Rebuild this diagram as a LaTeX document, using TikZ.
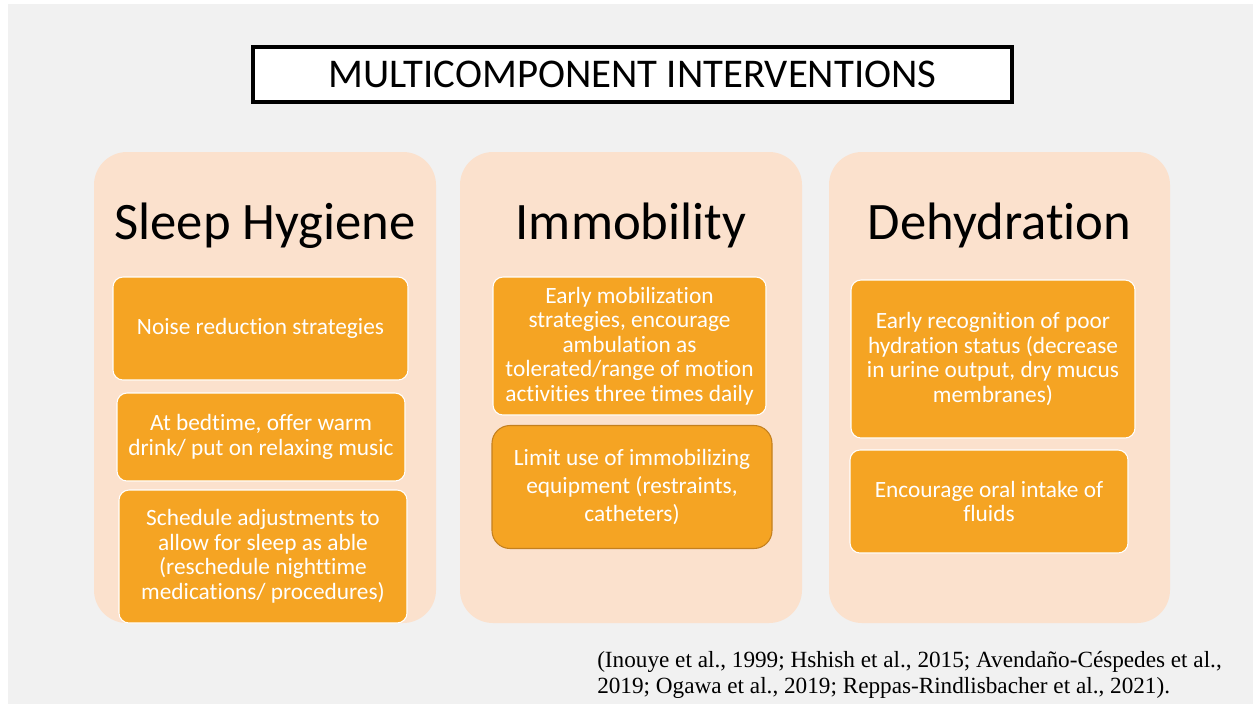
\documentclass[tikz,border=0pt]{standalone}
\usepackage{fontspec}
\setmainfont{Carlito}[Ligatures={NoCommon}]
\newfontfamily\citefont{Liberation Serif}
\definecolor{bgray}{RGB}{241,241,241}
\definecolor{peach}{RGB}{251,225,205}
\definecolor{orng}{RGB}{245,164,35}
\definecolor{orngdark}{RGB}{196,128,30}
\newlength\pxu
\setlength\pxu{0.75pt}
\begin{document}
\begin{tikzpicture}[x=0.75pt,y=-0.75pt,
  panel/.style={fill=peach, rounded corners=33\pxu, inner sep=0pt},
  ibox/.style={fill=orng, draw=white, line width=0.8pt, rounded corners=10\pxu,
    text=white, align=center, font=\fontsize{17.5}{18.4}\selectfont, inner sep=0pt},
  heading/.style={font=\fontsize{39.5}{44}\selectfont, text=black},
  titlebox/.style={draw=black, fill=white, line width=2.4pt, inner sep=0pt,
    font=\fontsize{30.6}{34}\selectfont}
]
\useasboundingbox (0,0) rectangle (1253,704);
\fill[white] (0,0) rectangle (1253,704);
\fill[bgray] (8,4) rectangle (1253,704);

\node[titlebox, minimum width=759\pxu, minimum height=55\pxu] (title) at (632.5,74.5) {MULTICOMPONENT INTERVENTIONS};

\node[panel, minimum width=342\pxu, minimum height=471\pxu] (p1) at (265,387.5) {};
\node[panel, minimum width=342\pxu, minimum height=471\pxu] (p2) at (631,387.5) {};
\node[panel, minimum width=341\pxu, minimum height=471\pxu] (p3) at (999.5,387.5) {};

\node[heading, anchor=base] (h1) at (265,239) {Sleep Hygiene};
\node[heading, anchor=base] (h2) at (631,239) {Immobility};
\node[heading, anchor=base] (h3) at (999.5,239) {Dehydration};

\node[ibox, minimum width=295\pxu, minimum height=103\pxu] (s1) at (260.5,328.5) {Noise reduction strategies};
\node[ibox, minimum width=288\pxu, minimum height=88\pxu] (s2) at (261,437) {At bedtime, offer warm\\drink/ put on relaxing music};
\node[ibox, minimum width=288\pxu, minimum height=133\pxu] (s3) at (263,556.5) {Schedule adjustments to\\allow for sleep as able\\(reschedule nighttime\\medications/ procedures)};

\node[ibox, minimum width=273\pxu, minimum height=138\pxu] (i1) at (629.5,346) {Early mobilization\\strategies, encourage\\ambulation as\\tolerated/range of motion\\activities three times daily};
\node[ibox, draw=orngdark, rounded corners=18\pxu, minimum width=280\pxu, minimum height=123\pxu, font=\fontsize{17.5}{21}\selectfont] (i2) at (632,487) {Limit use of immobilizing\\equipment (restraints,\\catheters)};

\node[ibox, minimum width=284\pxu, minimum height=158\pxu] (d1) at (993,359) {Early recognition of poor\\hydration status (decrease\\in urine output, dry mucus\\membranes)};
\node[ibox, minimum width=278\pxu, minimum height=103\pxu] (d2) at (989,501.5) {Encourage oral intake of\\fluids};

\node[anchor=north west, align=left, inner sep=0pt, font=\citefont\fontsize{17.4}{19.5}\selectfont] (cite) at (597,651) {(Inouye et al., 1999; Hshish et al., 2015; Avendaño-Céspedes et al.,\\2019; Ogawa et al., 2019; Reppas-Rindlisbacher et al., 2021).};
\end{tikzpicture}
\end{document}
